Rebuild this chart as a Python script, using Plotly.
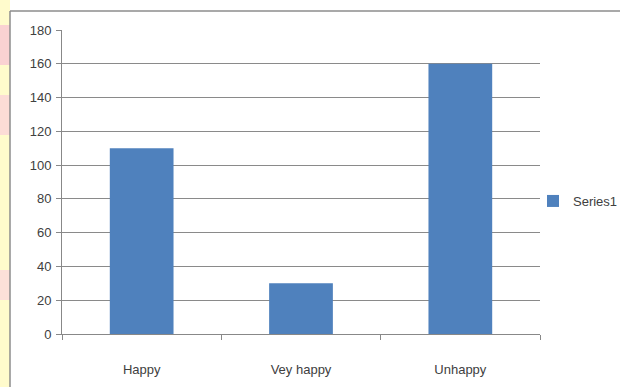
import plotly.graph_objects as go

categories = ["Happy", "Vey happy", "Unhappy"]
series1 = [110, 30, 160]
y_ticks = [0, 20, 40, 60, 80, 100, 120, 140, 160, 180]

W, H = 620, 387
L, R, T, B = 62, 80, 30, 53

fig = go.Figure()
fig.add_trace(go.Bar(
    x=categories, y=series1, name="Series1",
    marker=dict(color="#4F81BD", line=dict(width=0)),
    width=0.4, showlegend=True,
))


def px_x(v):
    return (v - L) / (W - L - R)


def px_y(v):
    return (H - B - v) / (H - T - B)


# slide background strip on the left edge
shapes = [
    dict(type="rect", xref="paper", yref="paper",
         x0=px_x(0), x1=px_x(10), y0=px_y(H), y1=px_y(0),
         fillcolor="#FFFBCC", line=dict(width=0), layer="below"),
]
for y0, y1, col in [(25, 65, "#FAD2D2"), (95, 135, "#FCDCD6"), (270, 300, "#FCE0D8")]:
    shapes.append(dict(type="rect", xref="paper", yref="paper",
                       x0=px_x(0), x1=px_x(10), y0=px_y(y1), y1=px_y(y0),
                       fillcolor=col, line=dict(width=0), layer="below"))
# chart area frame
shapes.append(dict(type="line", xref="paper", yref="paper",
                   x0=px_x(10), x1=px_x(10), y0=px_y(H), y1=px_y(11),
                   line=dict(color="#8C8C8C", width=1.5)))
shapes.append(dict(type="line", xref="paper", yref="paper",
                   x0=px_x(10), x1=px_x(W), y0=px_y(11), y1=px_y(11),
                   line=dict(color="#8C8C8C", width=1.5)))

fig.update_layout(
    width=W, height=H,
    margin=dict(l=L, r=R, t=T, b=B, autoexpand=False),
    paper_bgcolor="white", plot_bgcolor="white",
    font=dict(family="Liberation Sans", size=13, color="#404040"),
    shapes=shapes,
    xaxis=dict(
        type="category", showgrid=False, showline=True, linecolor="#888888", linewidth=1,
        ticks="outside", tickson="boundaries", ticklen=5, tickcolor="#888888",
        tickfont=dict(size=13, color="#404040"), ticklabelstandoff=23,
    ),
    yaxis=dict(
        range=[0, 180], tickvals=y_ticks, showgrid=True, gridcolor="#8A8A8A", gridwidth=1,
        showline=True, linecolor="#888888", linewidth=1, ticks="outside", ticklen=5,
        tickcolor="#888888", zeroline=False, tickfont=dict(size=13, color="#404040"),
        ticklabelstandoff=2,
    ),
    legend=dict(xref="container", yref="container", x=533 / W, y=1 - 201 / H,
                xanchor="left", yanchor="middle",
                font=dict(size=13, color="#404040"), itemwidth=30,
                bgcolor="rgba(0,0,0,0)"),
)

fig.write_html("out.html")
